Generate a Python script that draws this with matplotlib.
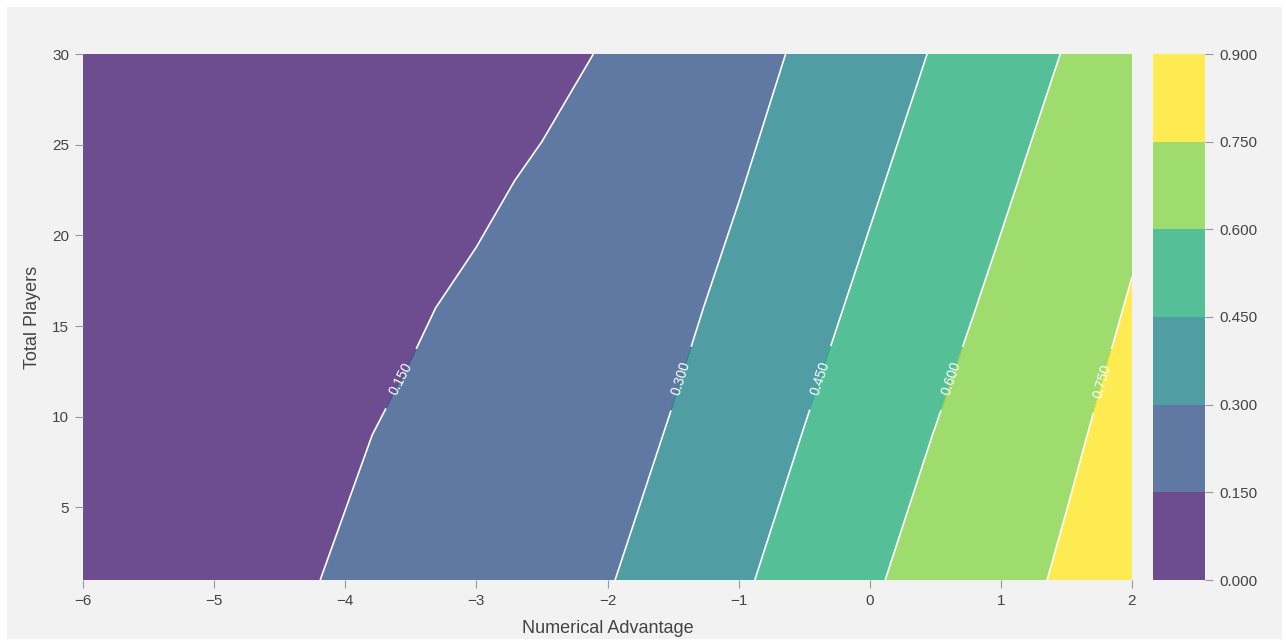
import matplotlib
matplotlib.use('Agg')
import numpy as np
import matplotlib.pyplot as plt
from matplotlib.colors import Normalize
from matplotlib.patches import Rectangle

plt.rcParams['font.family'] = ['Liberation Sans', 'DejaVu Sans']

# grid: numerical advantage (x, half steps) and total players (y)
advantage = [-6, -5.5, -5, -4.5, -4, -3.5, -3, -2.5, -2, -1.5, -1, -0.5,
             0, 0.5, 1, 1.5, 2]
total_players = [1, 9, 16, 23, 30]

# estimated win probability, one row per total_players value
p_row_1 = [0.029, 0.062, 0.096, 0.129, 0.163, 0.196, 0.229, 0.263, 0.294,
           0.346, 0.432, 0.505, 0.584, 0.652, 0.707, 0.768, 0.829]
p_row_9 = [0.005, 0.035, 0.069, 0.102, 0.136, 0.170, 0.204, 0.237, 0.256,
           0.308, 0.380, 0.453, 0.534, 0.603, 0.666, 0.730, 0.793]
p_row_16 = [0.004, 0.010, 0.026, 0.062, 0.099, 0.136, 0.173, 0.210, 0.246,
            0.275, 0.329, 0.407, 0.479, 0.556, 0.627, 0.692, 0.759]
p_row_23 = [0.003, 0.004, 0.006, 0.012, 0.040, 0.083, 0.125, 0.168, 0.210,
            0.253, 0.294, 0.351, 0.433, 0.505, 0.581, 0.653, 0.722]
p_row_30 = [0.002, 0.003, 0.004, 0.005, 0.008, 0.015, 0.059, 0.110, 0.161,
            0.212, 0.257, 0.317, 0.387, 0.459, 0.533, 0.607, 0.681]

levels = [0.0, 0.15, 0.30, 0.45, 0.60, 0.75, 0.90]
label_spots = [(-3.60, 12.2), (-1.48, 12.2), (-0.40, 12.2), (0.67, 12.0), (1.76, 12.0)]

X, Y = np.meshgrid(advantage, total_players)
Z = np.array([p_row_1, p_row_9, p_row_16, p_row_23, p_row_30])

fig = plt.figure(figsize=(12.86, 6.41), dpi=100, facecolor='white')
fig.patches.append(Rectangle((7 / 1286, 2 / 641), 1275 / 1286, 632 / 641,
                             transform=fig.transFigure, facecolor='#f2f2f2',
                             edgecolor='none', zorder=-10))

ax = fig.add_axes([83 / 1286, 1 - 580 / 641, 1049 / 1286, 526 / 641])
ax.set_facecolor('white')
cax = fig.add_axes([1153 / 1286, 1 - 580 / 641, 52 / 1286, 526 / 641])

# band midpoints run from 0.075 to 0.825; top band lands on full yellow
band_norm = Normalize(vmin=0.0, vmax=0.825)

cf = ax.contourf(X, Y, Z, levels=levels, cmap='viridis', norm=band_norm, alpha=0.8)
cs = ax.contour(X, Y, Z, levels=levels[1:-1], colors='white', linewidths=1.2)
ax.clabel(cs, fmt='%.3f', fontsize=10, colors='white', inline=True,
          inline_spacing=16, manual=label_spots)

ax.set_xlim(-6, 2)
ax.set_ylim(1, 30)
ax.set_yticks([5, 10, 15, 20, 25, 30])
ax.set_xlabel('Numerical Advantage', fontsize=13, color='#444444', labelpad=9)
ax.set_ylabel('Total Players', fontsize=13, color='#444444', labelpad=8)
ax.tick_params(colors='#999999', labelcolor='#444444', labelsize=11,
               length=6, width=0.8, pad=4)
for sp in ax.spines.values():
    sp.set_visible(False)

cb = fig.colorbar(cf, cax=cax, ticks=levels, format='%.3f')
cb.outline.set_visible(False)
cax.tick_params(colors='#999999', labelcolor='#444444', labelsize=11,
                length=6, width=0.8, pad=4)

plt.savefig('out.png', dpi=100, facecolor=fig.get_facecolor())
